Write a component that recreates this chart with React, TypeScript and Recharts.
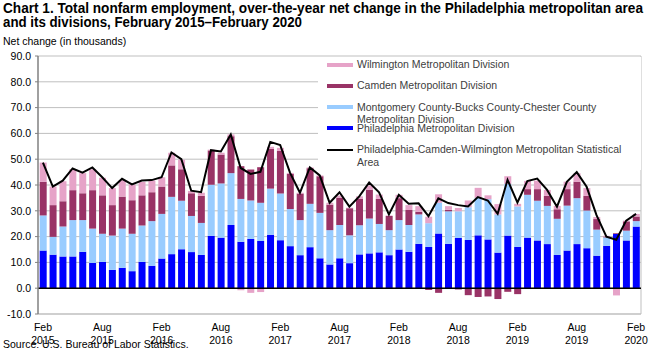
import React from 'react';
import { ComposedChart, Bar, Line, XAxis, YAxis, CartesianGrid, ReferenceLine, Legend } from 'recharts';

const months = [
  'Feb 2015','Mar 2015','Apr 2015','May 2015','Jun 2015','Jul 2015','Aug 2015','Sep 2015','Oct 2015','Nov 2015','Dec 2015','Jan 2016',
  'Feb 2016','Mar 2016','Apr 2016','May 2016','Jun 2016','Jul 2016','Aug 2016','Sep 2016','Oct 2016','Nov 2016','Dec 2016','Jan 2017',
  'Feb 2017','Mar 2017','Apr 2017','May 2017','Jun 2017','Jul 2017','Aug 2017','Sep 2017','Oct 2017','Nov 2017','Dec 2017','Jan 2018',
  'Feb 2018','Mar 2018','Apr 2018','May 2018','Jun 2018','Jul 2018','Aug 2018','Sep 2018','Oct 2018','Nov 2018','Dec 2018','Jan 2019',
  'Feb 2019','Mar 2019','Apr 2019','May 2019','Jun 2019','Jul 2019','Aug 2019','Sep 2019','Oct 2019','Nov 2019','Dec 2019','Jan 2020',
  'Feb 2020',
];

const philadelphia = [14.6,13.0,12.3,12.3,14.1,9.8,10.2,7.1,7.9,6.6, 10.2,8.7,11.5,13.2,15.1,14.0,12.9,20.3,19.6,24.5, 18.0,19.1,18.3,20.7,18.6,16.3,12.8,15.9,11.6,9.2, 11.6,9.7,13.1,13.5,13.9,12.8,15.0,14.1,17.2,16.0, 21.2,17.2,19.5,18.7,20.5,18.9,13.8,20.4,16.0,19.6, 18.5,17.1,12.9,14.6,17.1,15.5,12.6,16.4,21.0,18.5,23.9];
const montgomery = [13.6,6.9,11.6,14.1,12.3,13.3,10.9,13.3,15.2,14.5, 14.1,17.3,17.3,22.2,18.8,14.0,12.4,19.8,21.0,20.1, 16.6,14.9,14.8,17.9,18.1,14.4,13.6,16.8,17.6,13.3, 12.9,10.8,11.3,13.5,11.0,9.7,11.4,10.4,11.4,9.2, 11.9,12.6,10.3,12.7,14.5,15.6,14.8,20.0,15.7,16.6, 15.4,14.8,14.0,17.4,17.8,14.6,10.1,3.3,0,3.8,2.1];
const camden = [13.0,12.3,9.8,11.6,10.4,14.9,14.9,11.8,12.4,13.0, 11.7,11.2,10.6,12.2,12.2,8.8,10.5,13.3,11.2,14.3, 12.7,12.0,13.8,15.4,16.5,13.6,10.3,13.8,14.2,9.9, 10.6,10.5,10.2,11.2,9.7,5.5,8.5,5.8,1.0,-0.7, -1.8,0.6,-0.5,-2.7,-3.4,-3.2,-4.2,-1.4,-2.3,2.2, 4.5,3.9,3.7,6.4,6.4,5.7,4.1,0.3,0.3,3.6,1.8];
const wilmington = [7.5,7.2,7.8,8.1,7.8,8.1,6.8,6.6,6.4,6.1, 5.2,4.5,3.6,4.9,3.7,0.9,1.2,0.3,0.7,0.7, -0.8,-1.8,-1.5,0.8,1.2,0.4,0.3,0.3,0.3,0.7, 0.8,0.2,1.0,1.6,1.7,0.2,1.3,1.9,2.2,2.5, 3.3,1.4,1.3,2.6,3.9,1.5,4.0,3.0,1.0,3.2, 3.3,2.3,1.3,2.9,3.3,3.0,0.8,0.3,-2.8,0.3,1.0];
const msaTotal = [48.7,39.4,41.7,46.4,44.8,46.8,43.0,38.8,42.4,40.2, 41.7,41.9,43.0,52.6,50.0,37.8,37.2,53.5,53.0,59.6, 46.6,44.3,45.1,56.7,55.5,44.7,37.0,46.8,43.7,33.1, 37.2,31.6,35.6,41.0,37.2,28.6,36.2,32.7,32.9,27.9, 34.8,33.0,32.2,31.7,35.3,34.0,28.8,42.0,33.2,41.5, 42.5,38.1,31.6,41.2,45.0,39.3,28.3,20.0,18.8,26.2,28.8];

const yTicks = [-10, 0, 10, 20, 30, 40, 50, 60, 70, 80, 90];
const labeledMonths = ['Feb', 'Aug'];

const titleLines = [
  'Chart 1. Total nonfarm employment, over-the-year net change in the Philadelphia metropolitan area',
  'and its divisions, February 2015–February 2020',
];

const seriesNames = {
  wilmington: 'Wilmington Metropolitan Division',
  camden: 'Camden Metropolitan Division',
  montgomery: 'Montgomery County-Bucks County-Chester County\nMetropolitan Division',
  philadelphia: 'Philadelphia Metropolitan Division',
  msa: 'Philadelphia-Camden-Wilmington Metropolitan Statistical\nArea',
};

const colors = {
  philadelphia: '#0000FF',
  montgomery: '#99CCFF',
  camden: '#993366',
  wilmington: '#E6A3C8',
  msa: '#000000',
};

const data = months.map((m, i) => ({
  month: m,
  philadelphia: philadelphia[i],
  montgomery: montgomery[i],
  camden: camden[i],
  wilmington: wilmington[i],
  msa: msaTotal[i],
}));

const FONT = '"Liberation Sans", Arial, sans-serif';

const legendOrder: Array<{ key: keyof typeof seriesNames; kind: 'bar' | 'line' }> = [
  { key: 'wilmington', kind: 'bar' },
  { key: 'camden', kind: 'bar' },
  { key: 'montgomery', kind: 'bar' },
  { key: 'philadelphia', kind: 'bar' },
  { key: 'msa', kind: 'line' },
];

const LegendBox = () => (
  <div style={{ fontFamily: FONT, fontSize: 10.5, color: '#404040', background: '#fff', width: 323, height: 112, paddingTop: 1 }}>
    {legendOrder.map((it) => (
      <div key={it.key} style={{ position: 'relative', height: 21.3, paddingLeft: 39, lineHeight: '12.5px', whiteSpace: 'pre-line' }}>
        <span
          style={{
            position: 'absolute',
            left: 9,
            top: it.kind === 'bar' ? 4.5 : 5.5,
            width: 26,
            height: it.kind === 'bar' ? 4 : 2,
            background: colors[it.key],
          }}
        />
        {seriesNames[it.key]}
      </div>
    ))}
  </div>
);

const XTick = (props: any) => {
  const { x, y, payload } = props;
  const parts = String(payload.value).split(' ');
  if (!labeledMonths.includes(parts[0])) return null;
  return (
    <text x={x} y={y} textAnchor="middle" fontFamily={FONT} fontSize={10.5} fill="#000">
      <tspan x={x} dy={9}>{parts[0]}</tspan>
      <tspan x={x} dy={12.5}>{parts[1]}</tspan>
    </text>
  );
};

export default function App() {
  return (
    <div style={{ position: 'absolute', left: 0, top: 0, width: 650, height: 351, background: '#fff', fontFamily: FONT }}>
      <svg width={650} height={32} style={{ position: 'absolute', left: 0, top: 0 }}>
        <text x={3} y={13} fontFamily={FONT} fontWeight="bold" fontSize={14} fill="#000" textLength={640} lengthAdjust="spacingAndGlyphs">
          {titleLines[0]}
        </text>
        <text x={3} y={27} fontFamily={FONT} fontWeight="bold" fontSize={14} fill="#000" textLength={299} lengthAdjust="spacingAndGlyphs">
          {titleLines[1]}
        </text>
      </svg>
      <div style={{ position: 'absolute', left: 3, top: 35, fontSize: 10.5, color: '#000' }}>Net change (in thousands)</div>
      <ComposedChart
        width={650}
        height={351}
        data={data}
        stackOffset="sign"
        barCategoryGap="17%"
        margin={{ top: 56, right: 9, bottom: 0, left: 0 }}
      >
        <CartesianGrid vertical={false} stroke="#BFBFBF" strokeWidth={1} />
        <CartesianGrid horizontal={false} verticalPoints={[641]} stroke="#BFBFBF" />
        <XAxis
          dataKey="month"
          interval={0}
          tick={<XTick />}
          tickLine={false}
          axisLine={{ stroke: '#BFBFBF' }}
          height={37}
        />
        <YAxis
          domain={[-10, 90]}
          ticks={yTicks}
          interval={0}
          width={38}
          tickFormatter={(v: number) => v.toFixed(1)}
          tick={{ fontFamily: FONT, fontSize: 10.5, fill: '#000' }}
          axisLine={{ stroke: '#808080', strokeWidth: 1.5 }}
          tickLine={{ stroke: '#808080' }}
          tickSize={3}
          tickMargin={4}
        />
        <Bar dataKey="philadelphia" stackId="a" fill={colors.philadelphia} isAnimationActive={false} />
        <Bar dataKey="montgomery" stackId="a" fill={colors.montgomery} isAnimationActive={false} />
        <Bar dataKey="camden" stackId="a" fill={colors.camden} isAnimationActive={false} />
        <Bar dataKey="wilmington" stackId="a" fill={colors.wilmington} isAnimationActive={false} />
        <ReferenceLine y={0} stroke="#000" strokeWidth={1.5} />
        <Line dataKey="msa" type="linear" stroke={colors.msa} strokeWidth={2} dot={false} isAnimationActive={false} />
        <Legend
          layout="vertical"
          align="center"
          verticalAlign="middle"
          content={() => <LegendBox />}
          wrapperStyle={{ left: 318, top: 57, width: 323, height: 112 }}
        />
      </ComposedChart>
      <div style={{ position: 'absolute', left: 3, top: 338, fontSize: 10.5, color: '#000' }}>Source: U.S. Bureau of Labor Statistics.</div>
    </div>
  );
}
